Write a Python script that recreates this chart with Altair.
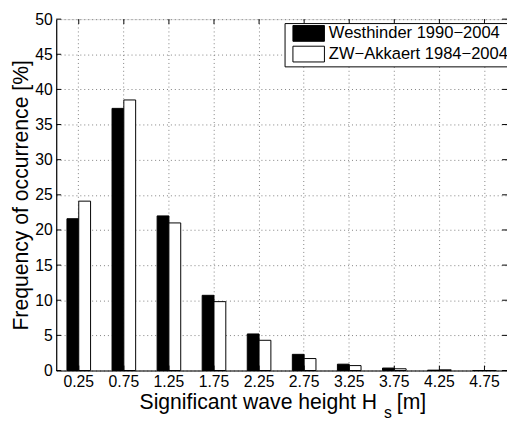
import altair as alt
import pandas as pd

categories = ["0.25", "0.75", "1.25", "1.75", "2.25", "2.75", "3.25", "3.75", "4.25", "4.75"]
series = ["Westhinder 1990−2004", "ZW−Akkaert 1984−2004"]
westhinder = [21.6, 37.3, 22.0, 10.7, 5.2, 2.3, 0.9, 0.35, 0.05, 0.0]
zw_akkaert = [24.1, 38.5, 21.0, 9.8, 4.3, 1.7, 0.7, 0.25, 0.1, 0.0]
yticks = [0, 5, 10, 15, 20, 25, 30, 35, 40, 45, 50]

rows = []
for c, a, b in zip(categories, westhinder, zw_akkaert):
    rows.append({"Hs": c, "Series": series[0], "Value": a})
    rows.append({"Hs": c, "Series": series[1], "Value": b})
df = pd.DataFrame(rows)

W, H = 458, 357
FONT = "Liberation Sans"
grid_color = "#808080"

xscale = alt.Scale(paddingInner=0.476, paddingOuter=0.238)
yscale = alt.Scale(domain=[0, 50], nice=False)

x_axis = alt.Axis(title="", labelAngle=0, labelFontSize=16, labelColor="black",
                  labelPadding=3, tickSize=0, domainColor="black", domainWidth=1.2,
                  grid=True, gridColor=grid_color, gridDash=[1, 3], bandPosition=0.5,
                  labelFont=FONT, labelOverlap=False)
y_axis = alt.Axis(title="Frequency of occurrence [%]", values=yticks, titleFontSize=21.5,
                  titleFontWeight="normal", titleColor="black", titleFont=FONT,
                  titlePadding=2, labelFontSize=16, labelColor="black", labelFont=FONT,
                  tickSize=0, labelPadding=4, grid=True, gridColor=grid_color,
                  gridDash=[1, 3], domainColor="black", domainWidth=1.2,
                  labelOverlap=False)

bars = alt.Chart(df).mark_bar(stroke="black", strokeWidth=1).encode(
    x=alt.X("Hs:N", sort=categories, scale=xscale, axis=x_axis),
    xOffset=alt.XOffset("Series:N", sort=series, scale=alt.Scale(paddingInner=0, paddingOuter=0)),
    y=alt.Y("Value:Q", scale=yscale, axis=y_axis),
    fill=alt.Fill("Series:N", scale=alt.Scale(domain=series, range=["black", "white"]),
                  legend=alt.Legend(title="", orient="none", legendX=232, legendY=4,
                                    symbolType="M-2,-1H2V1H-2Z", symbolSize=256,
                                    symbolStrokeColor="black", symbolStrokeWidth=1,
                                    symbolOffset=14, labelOffset=12, labelFontSize=16.8,
                                    labelFont=FONT, labelColor="black", labelLimit=400,
                                    padding=2, rowPadding=0, fillColor="white",
                                    strokeColor="black")),
)

ytick_df = pd.DataFrame({"Value": yticks})
xtick_df = pd.DataFrame({"Hs": categories})

left_ticks = alt.Chart(ytick_df).mark_rule(color="black", strokeWidth=1).encode(
    y=alt.Y("Value:Q", scale=yscale, axis=y_axis), x=alt.value(0), x2=alt.value(5))
right_ticks = alt.Chart(ytick_df).mark_rule(color="black", strokeWidth=1).encode(
    y=alt.Y("Value:Q", scale=yscale, axis=y_axis), x=alt.value(W - 5), x2=alt.value(W))
bottom_ticks = alt.Chart(xtick_df).mark_rule(color="black", strokeWidth=1).encode(
    x=alt.X("Hs:N", sort=categories, scale=xscale, axis=x_axis), y=alt.value(H), y2=alt.value(H - 5))
top_ticks = alt.Chart(xtick_df).mark_rule(color="black", strokeWidth=1).encode(
    x=alt.X("Hs:N", sort=categories, scale=xscale, axis=x_axis), y=alt.value(0), y2=alt.value(5))

one = pd.DataFrame({"k": [0]})
t1 = alt.Chart(one).mark_text(align="right", baseline="alphabetic", fontSize=21.5, font=FONT,
                              color="black").encode(
    x=alt.value(326), y=alt.value(396), text=alt.value("Significant wave height H"))
t2 = alt.Chart(one).mark_text(align="left", baseline="alphabetic", fontSize=16, font=FONT,
                              color="black").encode(
    x=alt.value(333), y=alt.value(405.5), text=alt.value("s"))
t3 = alt.Chart(one).mark_text(align="left", baseline="alphabetic", fontSize=21.5, font=FONT,
                              color="black").encode(
    x=alt.value(346), y=alt.value(396), text=alt.value("[m]"))

chart = alt.layer(bars, left_ticks, right_ticks, bottom_ticks, top_ticks, t1, t2, t3).properties(
    width=W, height=H,
    autosize=alt.AutoSizeParams(type="none"),
    padding={"left": 49, "top": 8, "right": 0, "bottom": 49},
    background="white",
).configure_view(stroke="black", strokeWidth=1.2).configure(font=FONT)

chart.save("out.html", embed_options={"renderer": "svg", "actions": False})
